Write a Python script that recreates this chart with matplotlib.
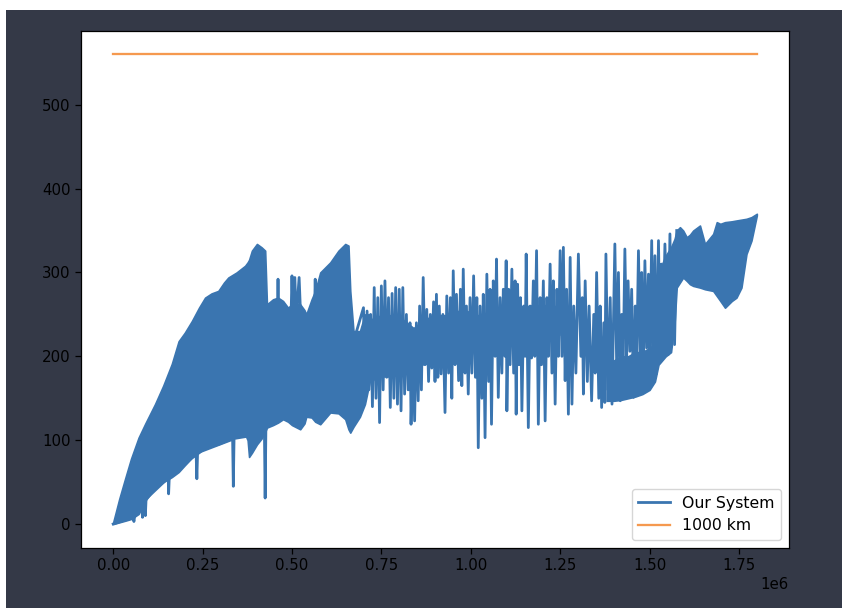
import matplotlib.pyplot as plt
from matplotlib.patches import Rectangle
import numpy as np

# positions in units of 1e6, values in km
# solid early band of the signal (upper / lower envelope)
early_x = [0.000, 0.017, 0.034, 0.050, 0.071, 0.090, 0.117, 0.140, 0.164, 0.183,
           0.200, 0.220, 0.240, 0.257, 0.275, 0.294, 0.310, 0.322, 0.345, 0.369,
           0.376, 0.380, 0.388, 0.402, 0.415, 0.425, 0.430, 0.447, 0.461, 0.475,
           0.489, 0.500, 0.523, 0.535, 0.540, 0.555, 0.565, 0.579, 0.607, 0.630,
           0.649, 0.658, 0.663, 0.672, 0.690, 0.704, 0.718]
early_hi = [2, 30, 55, 78, 103, 120, 143, 165, 191, 218,
            228, 242, 258, 270, 275, 278, 288, 294, 300, 308,
            312, 315, 326, 334, 330, 326, 262, 268, 270, 266,
            258, 262, 262, 255, 250, 268, 278, 300, 312, 326,
            334, 332, 278, 230, 230, 250, 250]
early_lo = [0, 2, 4, 6, 12, 28, 43, 50, 56, 62,
            70, 79, 85, 91, 93, 95, 98, 100, 104, 107,
            100, 80, 85, 95, 102, 110, 115, 118, 121, 125,
            122, 118, 113, 120, 128, 127, 122, 119, 133, 132,
            125, 113, 109, 116, 128, 143, 171]

# dense core of the middle stretch
mid_x = [0.720, 0.750, 0.780, 0.810, 0.840, 0.870, 0.900, 0.930, 0.960, 0.990,
         1.020, 1.060, 1.100, 1.140, 1.180, 1.220, 1.250]
mid_hi = [245, 250, 250, 245, 235, 245, 250, 250, 255, 255,
          250, 255, 260, 260, 262, 262, 260]
mid_lo = [170, 175, 175, 180, 185, 190, 190, 195, 200, 205,
          210, 215, 215, 220, 220, 225, 225]

# solid late band
late_x = [1.380, 1.400, 1.420, 1.440, 1.460, 1.480, 1.500, 1.515, 1.525, 1.545,
          1.560, 1.570, 1.576, 1.585, 1.594, 1.604, 1.613, 1.622, 1.641, 1.655,
          1.678, 1.688, 1.698, 1.711, 1.730, 1.743, 1.757, 1.771, 1.785, 1.800]
late_hi = [190, 195, 200, 200, 205, 205, 210, 215, 300, 320,
           330, 340, 350, 354, 350, 342, 345, 350, 356, 334,
           346, 360, 358, 360, 361, 362, 363, 364, 366, 370]
late_lo = [147, 147, 148, 150, 152, 155, 160, 170, 190, 200,
           205, 240, 282, 288, 294, 290, 286, 284, 282, 280,
           278, 272, 266, 258, 266, 270, 282, 322, 338, 368]

# individual strokes of the signal
trace_x = [0.000, 0.056, 0.058, 0.060, 0.080, 0.082, 0.084, 0.088, 0.090, 0.092,
           0.154, 0.155, 0.157, 0.232, 0.234, 0.236, 0.334, 0.336, 0.338, 0.423,
           0.425, 0.427, 0.459, 0.461, 0.463, 0.497, 0.500, 0.503, 0.508, 0.512,
           0.520, 0.525, 0.563, 0.565, 0.567, 0.660,
           0.700, 0.705, 0.710, 0.715, 0.720, 0.725, 0.730, 0.735, 0.740, 0.745,
           0.750, 0.755, 0.760, 0.765, 0.770, 0.775, 0.780, 0.785, 0.790, 0.795,
           0.800, 0.805, 0.810, 0.815, 0.820, 0.825, 0.830, 0.833, 0.838, 0.843,
           0.848, 0.853, 0.857, 0.862, 0.867, 0.872, 0.877, 0.882, 0.887, 0.891,
           0.896, 0.900, 0.904, 0.908, 0.912, 0.917, 0.922, 0.928, 0.933, 0.938,
           0.943, 0.947, 0.951, 0.956, 0.960, 0.966, 0.971, 0.975, 0.979, 0.984,
           0.988, 0.993, 0.998, 1.003, 1.008, 1.013, 1.017, 1.021, 1.026, 1.031,
           1.035, 1.040, 1.045, 1.050, 1.054, 1.058, 1.063, 1.068, 1.072, 1.077,
           1.082, 1.087, 1.091, 1.096, 1.099, 1.101, 1.106, 1.110, 1.115, 1.120,
           1.124, 1.127, 1.131, 1.135, 1.139, 1.143, 1.148, 1.152, 1.155, 1.161,
           1.166, 1.170, 1.175, 1.179, 1.184, 1.189, 1.194, 1.198, 1.203, 1.208,
           1.213, 1.217, 1.222, 1.227, 1.231, 1.236, 1.241, 1.245, 1.250, 1.255,
           1.259, 1.264, 1.268, 1.273, 1.278, 1.283, 1.288, 1.294, 1.301, 1.308,
           1.312, 1.315, 1.320, 1.326, 1.331, 1.338, 1.344, 1.348, 1.352, 1.358,
           1.362, 1.366, 1.372, 1.375, 1.378, 1.384, 1.390, 1.395, 1.403, 1.408,
           1.413, 1.418, 1.422, 1.426, 1.431, 1.436, 1.440, 1.445, 1.450, 1.455,
           1.460, 1.464, 1.469, 1.474, 1.478, 1.482, 1.487, 1.492, 1.497, 1.501,
           1.506, 1.510, 1.515, 1.519, 1.525, 1.529, 1.533, 1.538, 1.543, 1.552,
           1.557, 1.562, 1.566, 1.570, 1.576]
trace_y = [0, 8, 3, 9, 20, 8, 22, 26, 10, 30,
           55, 36, 57, 83, 54, 85, 101, 45, 102, 108,
           31, 112, 240, 292, 240, 240, 296, 245, 294, 245,
           294, 240, 250, 292, 250, 200,
           258, 150, 254, 160, 250, 140, 282, 150, 270, 121,
           284, 160, 290, 175, 270, 139, 275, 150, 282, 143,
           280, 135, 282, 155, 250, 160, 240, 119, 210, 123,
           240, 147, 260, 160, 294, 190, 256, 170, 250, 186,
           265, 170, 274, 175, 260, 179, 250, 133, 272, 180,
           270, 150, 302, 190, 274, 171, 280, 165, 304, 180,
           260, 155, 270, 180, 296, 175, 270, 91, 260, 150,
           274, 103, 298, 170, 280, 119, 290, 200, 316, 151,
           270, 180, 280, 200, 314, 135, 280, 190, 304, 180,
           290, 131, 286, 190, 270, 135, 260, 200, 322, 115,
           260, 198, 290, 200, 326, 119, 270, 190, 290, 123,
           270, 200, 310, 180, 290, 143, 280, 200, 326, 200,
           330, 171, 280, 131, 318, 143, 260, 180, 322, 200,
           270, 155, 290, 170, 260, 147, 250, 180, 300, 150,
           260, 139, 240, 145, 322, 160, 270, 143, 334, 190,
           300, 147, 250, 180, 328, 200, 290, 206, 280, 151,
           260, 190, 326, 200, 300, 159, 314, 210, 298, 200,
           338, 200, 320, 179, 338, 220, 310, 230, 334, 202,
           346, 220, 330, 214, 350]

ref_x = [0.0, 1.800]
ref_y = [560, 560]

blue = "#3a75b0"
orange = "#f5994f"

plt.rcParams["font.size"] = 10.8

fig = plt.figure(figsize=(8.42, 6.08), dpi=100, facecolor="white")
fig.patches.append(Rectangle((6 / 842, 0), 1, 1 - 10 / 608, transform=fig.transFigure,
                             facecolor="#343947", edgecolor="none", zorder=-10))
ax = fig.add_axes([81 / 842, 1 - 547.5 / 608, 708 / 842, 516.5 / 608])

scale = 1e6
ax.fill_between(np.array(early_x) * scale, early_lo, early_hi, color=blue, lw=1.2)
ax.fill_between(np.array(mid_x) * scale, mid_lo, mid_hi, color=blue, lw=0)
ax.fill_between(np.array(late_x) * scale, late_lo, late_hi, color=blue, lw=1.2)
ax.plot(np.array(trace_x) * scale, trace_y, color=blue, lw=2.0, label="Our System")
ax.plot(np.array(ref_x) * scale, ref_y, color=orange, lw=1.65, label="1000 km")

for spine in ax.spines.values():
    spine.set_linewidth(0.9)
ax.tick_params(length=4, width=0.9)
ax.legend(loc="lower right", fontsize=11.3)

fig.savefig("out.png", dpi=100, facecolor=fig.get_facecolor())
